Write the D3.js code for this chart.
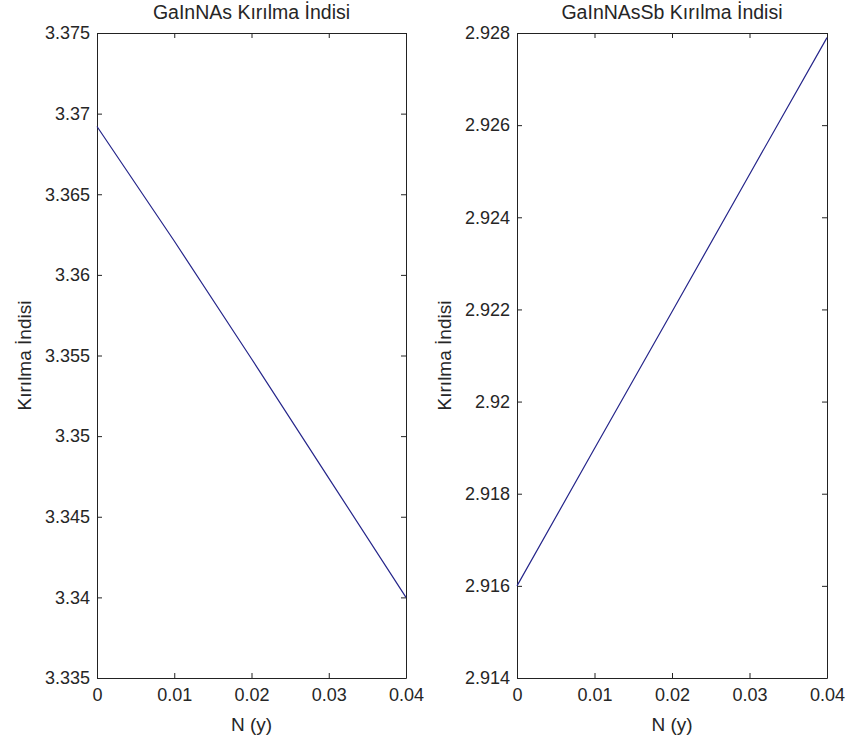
<!DOCTYPE html>
<html>
<head>
<meta charset="utf-8">
<script src="https://cdn.jsdelivr.net/npm/d3@7/dist/d3.min.js"></script>
<style>
  body { margin: 0; background: #fff; }
  svg { display: block; font-family: "Liberation Sans", Arial, sans-serif; }
  .axis path, .axis line { stroke: #222; }
  .axis text { fill: #262626; font-size: 18px; }
</style>
</head>
<body>
<div id="graph"></div>
<script>
// N (y) values
var nValues = [0, 0.01, 0.02, 0.03, 0.04];
// GaInNAs kirilma indisi
var gainnasValues = [3.3692, 3.3621, 3.3548, 3.3474, 3.3400];
// GaInNAsSb kirilma indisi
var gainnassbValues = [2.91600, 2.91898, 2.92195, 2.92493, 2.92790];

var xTicks = [0, 0.01, 0.02, 0.03, 0.04];
var leftTicks = [3.335, 3.34, 3.345, 3.35, 3.355, 3.36, 3.365, 3.37, 3.375];
var rightTicks = [2.914, 2.916, 2.918, 2.92, 2.922, 2.924, 2.926, 2.928];

var titles = ["GaInNAs Kırılma İndisi", "GaInNAsSb Kırılma İndisi"];
var xLabel = "N (y)";
var yLabel = "Kırılma İndisi";

var chartWidth = 848;
var chartHeight = 738;

var svg = d3
  .select("#graph")
  .append("svg")
  .attr("width", chartWidth)
  .attr("height", chartHeight);

svg.append("rect")
  .attr("width", chartWidth)
  .attr("height", chartHeight)
  .attr("fill", "#fff");

//dibuja un panel
function drawPanel(left, right, values, yDomain, yTicks, title, labelX) {
  var top = 33, bottom = 678;

  var xScale = d3.scaleLinear().domain([0, 0.04]).range([left, right]);
  var yScale = d3.scaleLinear().domain(yDomain).range([bottom, top]);

  var fmt = function (d) { return String(+d.toFixed(4)); };

  svg.append("g")
    .attr("class", "axis")
    .attr("transform", "translate(0," + bottom + ")")
    .call(d3.axisBottom(xScale).tickValues(xTicks).tickFormat(fmt)
      .tickSizeInner(-5).tickSizeOuter(0).tickPadding(10));

  svg.append("g")
    .attr("class", "axis")
    .attr("transform", "translate(0," + top + ")")
    .call(d3.axisTop(xScale).tickValues(xTicks).tickFormat("")
      .tickSizeInner(-5).tickSizeOuter(0));

  svg.append("g")
    .attr("class", "axis")
    .attr("transform", "translate(" + left + ",0)")
    .call(d3.axisLeft(yScale).tickValues(yTicks).tickFormat(fmt)
      .tickSizeInner(-5).tickSizeOuter(0).tickPadding(7));

  svg.append("g")
    .attr("class", "axis")
    .attr("transform", "translate(" + right + ",0)")
    .call(d3.axisRight(yScale).tickValues(yTicks).tickFormat("")
      .tickSizeInner(-5).tickSizeOuter(0));

  var line = d3.line()
    .x(function (d, i) { return xScale(nValues[i]); })
    .y(function (d) { return yScale(d); });

  svg.append("path")
    .datum(values)
    .attr("d", line)
    .attr("fill", "none")
    .attr("stroke", "#25258a")
    .attr("stroke-width", 1.2);

  svg.append("text")
    .attr("x", (left + right) / 2)
    .attr("y", 19)
    .attr("text-anchor", "middle")
    .attr("font-size", 19.5)
    .attr("fill", "#262626")
    .text(title);

  svg.append("text")
    .attr("x", (left + right) / 2)
    .attr("y", 731)
    .attr("text-anchor", "middle")
    .attr("font-size", 19)
    .attr("fill", "#262626")
    .text(xLabel);

  svg.append("text")
    .attr("transform", "translate(" + labelX + "," + (top + bottom) / 2 + ") rotate(-90)")
    .attr("text-anchor", "middle")
    .attr("font-size", 19)
    .attr("fill", "#262626")
    .text(yLabel);
}

drawPanel(97, 406, gainnasValues, [3.335, 3.375], leftTicks, titles[0], 31);
drawPanel(517, 827, gainnassbValues, [2.914, 2.928], rightTicks, titles[1], 451);
</script>
</body>
</html>
